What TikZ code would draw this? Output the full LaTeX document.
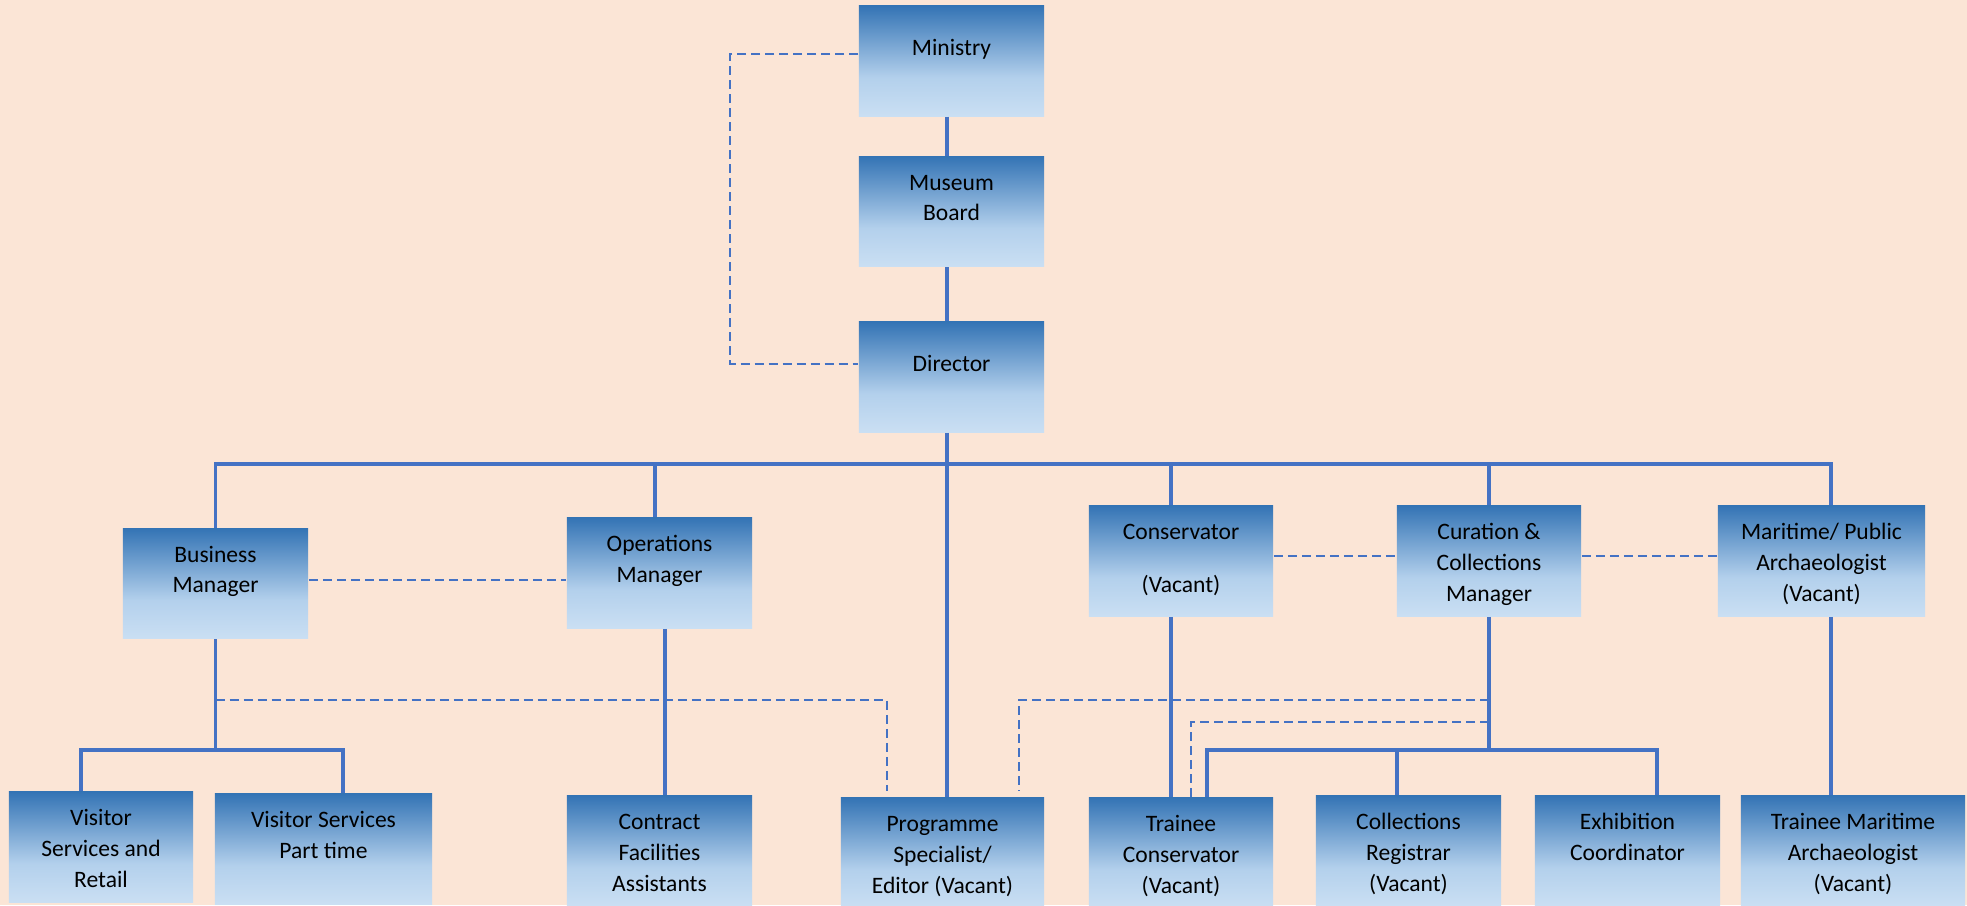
\documentclass[tikz,border=0pt]{standalone}
\usepackage{fontspec}
\setmainfont{Carlito}
\usepackage{tikz}

\definecolor{bgpeach}{HTML}{FBE5D6}
\definecolor{linkblue}{HTML}{4472C4}
\definecolor{posttop}{HTML}{3474B5}
\definecolor{postmid}{HTML}{B3D0EC}
\definecolor{postlow}{HTML}{CADFF3}
\pgfdeclareverticalshading{postshade}{100bp}{color(0bp)=(postlow); color(25bp)=(postlow); color(42.5bp)=(postmid); color(75bp)=(posttop); color(100bp)=(posttop)}

\begin{document}
\begin{tikzpicture}[x=0.01cm, y=-0.01cm, every node/.style={font=\fontsize{6.7}{8.8}\selectfont},
  post/.style={rectangle, shading=postshade, text width=#1, minimum height=1.1cm, inner sep=0pt, align=flush center, text height=0.1cm, text depth=0.53cm},
  orgline/.style={draw=linkblue, line width=1pt},
  dotline/.style={draw=linkblue, line width=0.55pt, dash pattern=on 0.09cm off 0.05cm}]
\fill[bgpeach] (0,0) rectangle (1967,905);
\useasboundingbox (0,0) rectangle (1967,905);
\node[post=1.85cm, text depth=0.21cm] (ministry) at (951.5,61) {Ministry};
\node[post=1.85cm] (board) at (951.5,211.5) {Museum\\Board};
\node[post=1.85cm, text depth=0.21cm] (director) at (951.5,377) {Director};
\node[post=1.85cm] (busmgr) at (215.5,583.5) {Business\\Manager};
\node[post=1.85cm] (opsmgr) at (659.5,573) {Operations\\Manager};
\node[post=1.84cm] (conservator) at (1181,561) {Conservator\\[6.2pt](Vacant)};
\node[post=1.84cm] (curation) at (1489,561) {Curation \&\\Collections\\Manager};
\node[post=2.07cm] (maritime) at (1821.5,561) {Maritime/ Public\\Archaeologist\\(Vacant)};
\node[post=1.84cm] (visretail) at (101,847) {Visitor\\Services and\\Retail};
\node[post=2.17cm] (vispart) at (323.5,849) {Visitor Services\\Part time};
\node[post=1.85cm] (contract) at (659.5,851) {Contract\\Facilities\\Assistants};
\node[post=2.03cm] (programme) at (942.5,853) {Programme\\Specialist/\\Editor (Vacant)};
\node[post=1.84cm] (traineecons) at (1181,853) {Trainee\\Conservator\\(Vacant)};
\node[post=1.85cm] (registrar) at (1408.5,851) {Collections\\Registrar\\(Vacant)};
\node[post=1.85cm] (exhibition) at (1627.5,851) {Exhibition\\Coordinator};
\node[post=2.24cm] (traineemar) at (1853,851) {Trainee Maritime\\Archaeologist\\(Vacant)};
\coordinate (spine) at (947,0);
\coordinate (busright) at (1831,464);
\coordinate (split) at (0,750);
\coordinate (linkhigh) at (0,700);
\coordinate (linklow) at (0,722);
\draw[orgline] (ministry.south -| spine) -- (board.north -| spine);
\draw[orgline] (board.south -| spine) -- (director.north -| spine);
\draw[orgline] (director.south -| spine) -- (programme.north -| spine);
\draw[orgline] (busmgr.north) |- (busright) -- (busright |- maritime.north);
\draw[orgline] ([xshift=-0.045cm]opsmgr.north) -- ([xshift=-0.045cm]opsmgr.north |- busright);
\draw[orgline] ([xshift=-0.1cm]conservator.north) -- ([xshift=-0.1cm]conservator.north |- busright);
\draw[orgline] (curation.north) -- (curation.north |- busright);
\draw[orgline] ([xshift=0.055cm]opsmgr.south) -- ([xshift=0.055cm]contract.north);
\draw[orgline] ([xshift=-0.1cm]conservator.south) -- ([xshift=-0.1cm]traineecons.north);
\draw[orgline] (busright |- maritime.south) -- (busright |- traineemar.north);
\draw[orgline] (busmgr.south) -- (busmgr.south |- split);
\draw[orgline] ([xshift=-0.2cm]visretail.north) |- ([xshift=0.195cm]vispart.north |- split) -- ([xshift=0.195cm]vispart.north);
\draw[orgline] (curation.south) -- (curation.south |- split);
\draw[orgline] ([xshift=0.26cm]traineecons.north) |- ([xshift=0.295cm]exhibition.north |- split) -- ([xshift=0.295cm]exhibition.north);
\draw[orgline] ([xshift=-0.115cm]registrar.north) -- ([xshift=-0.115cm]registrar.north |- split);
\draw[dotline] ([yshift=0.07cm]ministry.west) -- ++(-128,0) |- ([yshift=0.13cm]director.west);
\draw[dotline] ([yshift=0.035cm]busmgr.east) -- ([yshift=0.035cm]busmgr.east -| opsmgr.west);
\draw[dotline] ([yshift=0.05cm]conservator.east) -- ([yshift=0.05cm]conservator.east -| curation.west);
\draw[dotline] ([yshift=0.05cm]curation.east) -- ([yshift=0.05cm]curation.east -| maritime.west);
\draw[dotline] (busmgr.south |- linkhigh) -| ([xshift=-0.555cm,yshift=0.06cm]programme.north);
\draw[dotline] (curation.south |- linkhigh) -| ([xshift=0.765cm,yshift=0.06cm]programme.north);
\draw[dotline] (curation.south |- linklow) -| ([xshift=0.1cm]traineecons.north);
\end{tikzpicture}
\end{document}
